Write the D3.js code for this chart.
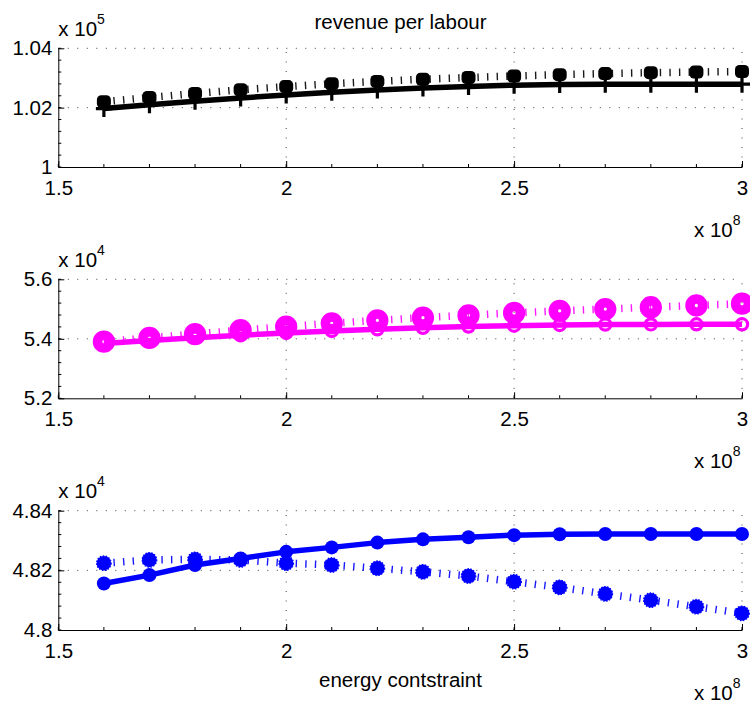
<!DOCTYPE html>
<html><head><meta charset="utf-8">
<script src="https://cdn.jsdelivr.net/npm/d3@7"></script>
<style>
html,body{margin:0;padding:0;background:#fff;}
svg text{font-family:"Liberation Sans",Arial,Helvetica,sans-serif;fill:#000;}
</style></head>
<body>
<svg id="chart" width="750" height="704"></svg>
<script>
// ---------- data ----------
const energy = [1.6e8,1.7e8,1.8e8,1.9e8,2.0e8,2.1e8,2.2e8,2.3e8,2.4e8,2.5e8,2.6e8,2.7e8,2.8e8,2.9e8,3.0e8];
const xTicks = [1.5e8,2.0e8,2.5e8,3.0e8];

const revSolid  = [101970,102096,102214,102325,102427,102518,102595,102662,102716,102757,102777,102787,102790,102790,102790];
const revDotted = [102201,102342,102477,102602,102710,102804,102885,102956,103016,103067,103111,103148,103178,103201,103218];
const revTicks  = [100000,102000,104000];

const magSolid  = [53842,53943,54034,54118,54195,54262,54319,54370,54410,54440,54464,54477,54484,54487,54487];
const magDotted = [53903,54030,54160,54290,54410,54520,54620,54710,54790,54870,54940,55000,55060,55120,55180];
const magTicks  = [52000,54000,56000];

const bluSolid  = [48156,48184,48218,48240,48262,48277,48293,48304,48311,48318,48321,48322,48322,48322,48322];
const bluDotted = [48224,48235,48237,48235,48224,48218,48207,48195,48181,48162,48143,48121,48100,48078,48056];
const bluTicks  = [48000,48200,48400];

const title = "revenue per labour";
const xLabel = "energy contstraint";

// ---------- layout ----------
const svg = d3.select("#chart");
const left = 58.3, right = 742;
const panels = [
  {top:48.3, bottom:167, ticks:revTicks, exp:5, color:"#000000", solid:revSolid, dotted:revDotted, kind:"plus"},
  {top:279.3, bottom:398.3, ticks:magTicks, exp:4, color:"#ff00ff", solid:magSolid, dotted:magDotted, kind:"circle"},
  {top:510.7, bottom:630, ticks:bluTicks, exp:4, color:"#0000ff", solid:bluSolid, dotted:bluDotted, kind:"dot"}
];

const x = d3.scaleLinear().domain([1.5e8,3.0e8]).range([left,right]);
const fmt = (v, e) => String(+(v/Math.pow(10,e)).toFixed(3));
const FS = 20.5;

panels.forEach((p,i)=>{
  const y = d3.scaleLinear().domain([p.ticks[0], p.ticks[p.ticks.length-1]]).range([p.bottom,p.top]);
  const g = svg.append("g");

  // grid (dotted)
  const grid = g.append("g").attr("stroke","#000").attr("stroke-width",1).attr("stroke-dasharray","1,8.5").attr("fill","none");
  xTicks.slice(1).forEach(t=>{
    grid.append("line").attr("x1",x(t)).attr("x2",x(t)).attr("y1",p.bottom).attr("y2",p.top).attr("opacity",0.75);
  });
  p.ticks.slice(1).forEach(t=>{
    grid.append("line").attr("x1",left).attr("x2",right).attr("y1",y(t)).attr("y2",y(t)).attr("opacity",0.75);
  });

  // minor ticks
  const minor = g.append("g").attr("stroke","#000").attr("stroke-width",1);
  d3.range(1.5e8, 3.0e8+1, 0.1e8).forEach(t=>{
    minor.append("line").attr("x1",x(t)).attr("x2",x(t)).attr("y1",p.bottom).attr("y2",p.bottom-3);
  });
  const step = (p.ticks[1]-p.ticks[0])/5;
  d3.range(p.ticks[0], p.ticks[p.ticks.length-1]+step/2, step).forEach(t=>{
    minor.append("line").attr("x1",left).attr("x2",left+3).attr("y1",y(t)).attr("y2",y(t));
  });

  // axes
  const xa = g.append("g").attr("transform",`translate(0,${p.bottom})`)
    .call(d3.axisBottom(x).tickValues(xTicks).tickSizeInner(-6).tickSizeOuter(0).tickPadding(13).tickFormat(v=>fmt(v,8)));
  const ya = g.append("g").attr("transform",`translate(${left},0)`)
    .call(d3.axisLeft(y).tickValues(p.ticks).tickSizeInner(-6).tickSizeOuter(0).tickPadding(6).tickFormat(v=>fmt(v,p.exp)));
  [xa,ya].forEach(a=>{
    a.selectAll("text").attr("font-size",FS).attr("font-family","Liberation Sans, Arial, sans-serif");
    a.selectAll("path,line").attr("stroke","#000").attr("stroke-width",1);
  });

  // exponent labels
  const ey = g.append("text").attr("x",left).attr("y",p.top-12.5).attr("font-size",FS);
  ey.append("tspan").text("x 10");
  ey.append("tspan").attr("font-size",14).attr("dy",-12).text(p.exp);
  const ex = g.append("text").attr("x",694).attr("y",p.bottom+70).attr("font-size",FS);
  ex.append("tspan").text("x 10");
  ex.append("tspan").attr("font-size",14).attr("dy",-12).text("8");

  // series
  const line = d3.line().x((d,k)=>x(energy[k])).y(d=>y(d));

  // solid line
  g.append("path").datum(p.solid).attr("d",line).attr("fill","none")
    .attr("stroke",p.color).attr("stroke-width",5.5).attr("stroke-linejoin","round");
  const sm = g.append("g");
  p.solid.forEach((d,k)=>{
    const cx = x(energy[k]), cy = y(d);
    if(p.kind==="plus"){
      sm.append("path").attr("d",`M${cx-8},${cy}H${cx+8}M${cx},${cy-8.5}V${cy+8.5}`)
        .attr("stroke",p.color).attr("stroke-width",3.2).attr("fill","none");
    } else if(p.kind==="circle"){
      sm.append("circle").attr("cx",cx).attr("cy",cy).attr("r",5.6)
        .attr("fill","none").attr("stroke",p.color).attr("stroke-width",3.2);
    } else {
      sm.append("circle").attr("cx",cx).attr("cy",cy).attr("r",7).attr("fill",p.color);
    }
  });

  // dotted line
  g.append("path").datum(p.dotted).attr("d",line).attr("fill","none")
    .attr("stroke",p.color).attr("stroke-width",7.5).attr("stroke-dasharray","1.4,8.2")
    .attr("stroke-linecap","butt").attr("opacity",0.9);
  const dm = g.append("g");
  p.dotted.forEach((d,k)=>{
    const cx = x(energy[k]), cy = y(d);
    if(p.kind==="plus"){
      dm.append("rect").attr("x",cx-7).attr("y",cy-6.5).attr("width",14).attr("height",13).attr("rx",4.5)
        .attr("fill",p.color);
    } else if(p.kind==="circle"){
      dm.append("circle").attr("cx",cx).attr("cy",cy).attr("r",6.4)
        .attr("fill","none").attr("stroke",p.color).attr("stroke-width",9.5);
    } else {
      dm.append("circle").attr("cx",cx).attr("cy",cy).attr("r",7.3).attr("fill",p.color)
        .attr("stroke",p.color).attr("stroke-width",1.2).attr("stroke-dasharray","1.5,1.5");
    }
  });
});

// title and x label
svg.append("text").attr("x",400.5).attr("y",29).attr("text-anchor","middle").attr("font-size",FS).text(title);
svg.append("text").attr("x",400.5).attr("y",687).attr("text-anchor","middle").attr("font-size",FS).text(xLabel);
</script>
</body></html>
